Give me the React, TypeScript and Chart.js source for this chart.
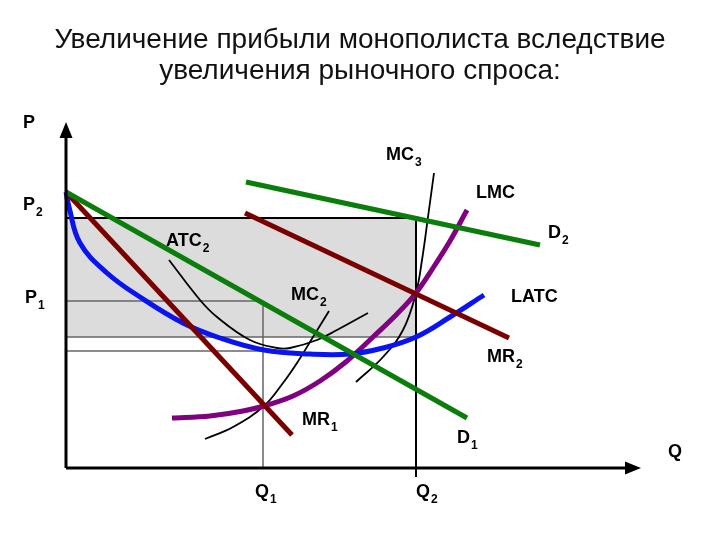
import React, { useEffect, useRef } from "react";
import { Chart, registerables } from "chart.js";

Chart.register(...registerables);

// ---- Text ----
const TITLE_LINES = [
  "Увеличение прибыли монополиста вследствие",
  "увеличения рыночного спроса:",
];

// ---- Curves (Q, P) in chart units ----
const D1_Q = [0, 401];
const D1_P = [276, 50];

const MR1_Q = [0, 226];
const MR1_P = [276, 33];

const D2_Q = [180, 474];
const D2_P = [286, 223];

const MR2_Q = [179, 443];
const MR2_P = [255, 130];

const LATC_Q = [0, 3, 14, 41, 74, 117, 154, 198, 244, 284, 317, 350, 384, 418];
const LATC_P = [276, 261, 225, 195, 171, 145, 130, 118, 114, 114, 120, 131, 151, 173];

const LMC_Q = [106, 144, 177, 198, 227, 254, 281, 307, 331, 350, 367, 384, 401];
const LMC_P = [50, 52, 57, 62, 72, 87, 107, 131, 154, 175, 200, 227, 258];

const MC2_Q = [139, 167, 198, 217, 231, 247, 263];
const MC2_P = [29, 41, 62, 85, 105, 131, 157];

const MC3_Q = [290, 317, 337, 350, 356, 362, 368];
const MC3_P = [86, 111, 138, 175, 208, 251, 295];

const ATC2_Q = [103, 134, 151, 184, 211, 224, 251, 271, 302];
const ATC2_P = [208, 168, 151, 128, 120, 120, 128, 138, 155];

// ---- Equilibrium values ----
const Q1 = 197;
const Q2 = 350;
const P1 = 167;
const P2 = 250;
const ATC_Q1 = 117;
const ATC_Q2 = 131;

// ---- Axes extents ----
const X_AXIS_END = 575;
const Y_AXIS_END = 346;

// ---- Labels: text, subscript, q, p (baseline-left) ----
const LABEL_TEXT = ["P", "P", "P", "ATC", "MC", "LMC", "D", "MC", "LATC", "MR", "MR", "D", "Q", "Q", "Q"];
const LABEL_SUB = ["", "2", "1", "2", "3", "", "2", "2", "", "2", "1", "1", "", "1", "2"];
const LABEL_Q = [-43, -43, -41, 100, 320, 410, 482, 225, 445, 421, 236, 391, 602, 189, 350];
const LABEL_P = [340, 258, 165, 222, 308, 270, 230, 168, 166, 106, 43, 25, 11, -29, -29];

const zip = (qs: number[], ps: number[]) => qs.map((q, i) => ({ x: q, y: ps[i] }));

const GREEN = "#0a7d0a";
const DARKRED = "#7a0000";
const BLUE = "#0a14f0";
const PURPLE = "#800080";
const GRID = "#666666";

export default function App() {
  const ref = useRef<HTMLCanvasElement | null>(null);

  useEffect(() => {
    if (!ref.current) return;

    const overlay = {
      id: "overlay",
      afterDatasetsDraw(chart: any) {
        const ctx = chart.ctx as CanvasRenderingContext2D;
        const xs = chart.scales.x;
        const ys = chart.scales.y;
        const px = (q: number) => xs.getPixelForValue(q);
        const py = (p: number) => ys.getPixelForValue(p);
        ctx.save();
        // axes
        ctx.strokeStyle = "#000";
        ctx.fillStyle = "#000";
        ctx.lineWidth = 3;
        ctx.beginPath();
        ctx.moveTo(px(0), py(0));
        ctx.lineTo(px(X_AXIS_END) - 10, py(0));
        ctx.moveTo(px(0), py(0));
        ctx.lineTo(px(0), py(Y_AXIS_END) + 10);
        ctx.stroke();
        // arrowheads
        ctx.beginPath();
        ctx.moveTo(px(X_AXIS_END), py(0));
        ctx.lineTo(px(X_AXIS_END) - 16, py(0) - 6.5);
        ctx.lineTo(px(X_AXIS_END) - 16, py(0) + 6.5);
        ctx.closePath();
        ctx.fill();
        ctx.beginPath();
        ctx.moveTo(px(0), py(Y_AXIS_END));
        ctx.lineTo(px(0) - 6.5, py(Y_AXIS_END) + 16);
        ctx.lineTo(px(0) + 6.5, py(Y_AXIS_END) + 16);
        ctx.closePath();
        ctx.fill();

        // labels
        ctx.textBaseline = "alphabetic";
        ctx.textAlign = "left";
        LABEL_TEXT.forEach((t, i) => {
          const x = px(LABEL_Q[i]);
          const y = py(LABEL_P[i]);
          ctx.font = "bold 18px 'Liberation Sans', Arial, sans-serif";
          ctx.fillText(t, x, y);
          const w = ctx.measureText(t).width;
          if (LABEL_SUB[i]) {
            ctx.font = "bold 12px 'Liberation Sans', Arial, sans-serif";
            ctx.fillText(LABEL_SUB[i], x + w + 1, y + 6);
          }
        });

        // title
        ctx.fillStyle = "#111";
        ctx.textAlign = "center";
        ctx.font = "28px 'Liberation Sans', Arial, sans-serif";
        ctx.fillText(TITLE_LINES[0], 360, 48);
        ctx.fillText(TITLE_LINES[1], 360, 79);
        ctx.restore();
      },
    };

    const line = (data: any[], color: string, width: number, order: number, extra: any = {}) => ({
      data,
      borderColor: color,
      borderWidth: width,
      pointRadius: 0,
      fill: false,
      order,
      ...extra,
    });

    const chart = new Chart(ref.current, {
      type: "line",
      data: {
        datasets: [
          // shaded profit rectangle
          line(zip([0, Q2], [P2, P2]), "#000", 2, 100, {
            fill: { value: ATC_Q2 },
            backgroundColor: "#dcdcdc",
          }),
          line(zip([0, Q2], [ATC_Q2, ATC_Q2]), GRID, 1.5, 95),
          line(zip([0, Q1], [P1, P1]), GRID, 1.5, 95),
          line(zip([0, Q1], [ATC_Q1, ATC_Q1]), GRID, 1.5, 95),
          line(zip([Q1, Q1], [P1, 0]), GRID, 1.5, 95),
          line(zip([Q2, Q2], [P2, -9]), "#000", 2, 94),
          // thin short-run curves
          line(zip(ATC2_Q, ATC2_P), "#000", 1.8, 50, { tension: 0.4 }),
          line(zip(MC2_Q, MC2_P), "#000", 1.8, 50, { tension: 0.4 }),
          line(zip(MC3_Q, MC3_P), "#000", 1.8, 50, { tension: 0.4 }),
          // long-run curves
          line(zip(LATC_Q, LATC_P), BLUE, 5, 40, { tension: 0.4 }),
          line(zip(LMC_Q, LMC_P), PURPLE, 5, 40, { cubicInterpolationMode: "monotone" }),
          line(zip(MR1_Q, MR1_P), DARKRED, 5, 30),
          line(zip(MR2_Q, MR2_P), DARKRED, 5, 30),
          line(zip(D1_Q, D1_P), GREEN, 5, 20),
          line(zip(D2_Q, D2_P), GREEN, 5, 20),
        ],
      },
      options: {
        animation: false,
        responsive: false,
        layout: { padding: 0 },
        plugins: { legend: { display: false }, tooltip: { enabled: false }, title: { display: false } },
        scales: {
          x: { type: "linear", display: false, min: -66, max: 654 },
          y: { type: "linear", display: false, min: -72, max: 468 },
        },
      },
      plugins: [overlay],
    } as any);

    return () => chart.destroy();
  }, []);

  return (
    <div style={{ position: "absolute", left: 0, top: 0, width: 720, height: 540, background: "#fff" }}>
      <canvas ref={ref} width={720} height={540} style={{ display: "block" }} />
    </div>
  );
}
